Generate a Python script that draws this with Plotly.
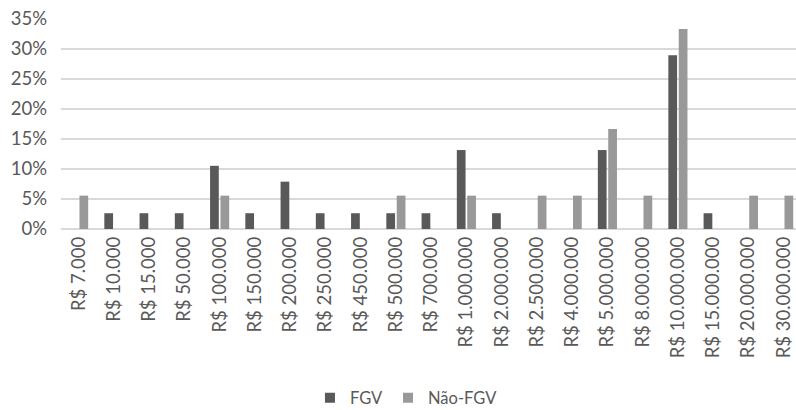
import plotly.graph_objects as go

faixas = ["R$ 7.000", "R$ 10.000", "R$ 15.000", "R$ 50.000", "R$ 100.000",
          "R$ 150.000", "R$ 200.000", "R$ 250.000", "R$ 450.000", "R$ 500.000",
          "R$ 700.000", "R$ 1.000.000", "R$ 2.000.000", "R$ 2.500.000",
          "R$ 4.000.000", "R$ 5.000.000", "R$ 8.000.000", "R$ 10.000.000",
          "R$ 15.000.000", "R$ 20.000.000", "R$ 30.000.000"]

fgv = [0, 2.63, 2.63, 2.63, 10.53, 2.63, 7.89, 2.63, 2.63, 2.63, 2.63,
       13.16, 2.63, 0, 0, 13.16, 0, 28.95, 2.63, 0, 0]
nao_fgv = [5.56, 0, 0, 0, 5.56, 0, 0, 0, 0, 5.56, 0, 5.56, 0, 5.56, 5.56,
           16.67, 5.56, 33.33, 0, 5.56, 5.56]

y_ticks = [0, 5, 10, 15, 20, 25, 30, 35]

font_family = "Lato, 'Open Sans', sans-serif"
text_color = "#595959"
cor_fgv = "#595959"
cor_nao = "#999999"

fig = go.Figure()
fig.add_trace(go.Bar(x=faixas, y=fgv, name="FGV", marker_color=cor_fgv,
                     marker_line_width=0, showlegend=False))
fig.add_trace(go.Bar(x=faixas, y=nao_fgv, name="Não-FGV", marker_color=cor_nao,
                     marker_line_width=0, showlegend=False))

# legend entries with small square swatches
for nome, cor in [("FGV", cor_fgv), ("Não-FGV", cor_nao)]:
    fig.add_trace(go.Scatter(x=[None], y=[None], mode="markers", name=nome,
                             marker=dict(symbol="square", size=10, color=cor)))

fig.update_layout(
    width=796, height=410,
    margin=dict(l=61, r=0, t=19, b=181, autoexpand=False),
    paper_bgcolor="white", plot_bgcolor="white",
    barmode="group", bargap=0.41, bargroupgap=0.16,
    font=dict(family=font_family, color=text_color, size=18),
    showlegend=True,
    legend=dict(orientation="h", x=0.47, xanchor="center", y=-0.805, yanchor="middle",
                font=dict(size=16.5, color=text_color), itemwidth=30,
                traceorder="normal"),
    xaxis=dict(type="category", tickangle=-90, tickfont=dict(size=18.5),
               range=[-0.5, 20.35], ticklabelstandoff=3,
               showgrid=False, showline=False, ticks="", automargin=False),
    yaxis=dict(range=[0, 35], tickvals=y_ticks,
               ticktext=[f"{v}%" for v in y_ticks],
               showgrid=True, gridcolor="#d9d9d9", gridwidth=1.5,
               zeroline=True, zerolinecolor="#d9d9d9", zerolinewidth=1.5,
               ticks="", tickfont=dict(size=18.5), ticklabelstandoff=13,
               automargin=False),
)

fig.write_html("out.html")
